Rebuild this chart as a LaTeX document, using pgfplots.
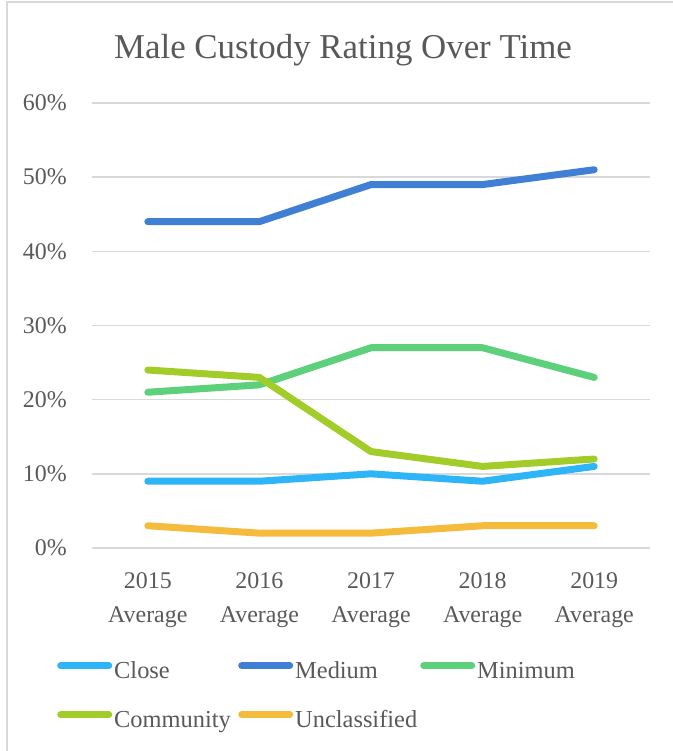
\documentclass[border=0pt]{standalone}
\usepackage{fontspec}
\setmainfont{Liberation Serif}
\usepackage{pgfplots}
\pgfplotsset{compat=1.18}
\definecolor{txt}{HTML}{595959}
\definecolor{gridc}{HTML}{D9D9D9}
\definecolor{cClose}{HTML}{2EB5F8}
\definecolor{cMedium}{HTML}{3F7FD4}
\definecolor{cMinimum}{HTML}{5CD07A}
\definecolor{cCommunity}{HTML}{A2CD28}
\definecolor{cUnclass}{HTML}{F5BB3D}
\begin{document}
\begin{tikzpicture}[x=1bp,y=1bp]
\useasboundingbox (0,0) rectangle (673,751);
\draw[gridc, line width=1.5bp] (7,-5) rectangle (690,749);
\node[txt, font=\fontsize{35}{40}\selectfont] at (343,701) {Male Custody Rating Over Time};
\begin{axis}[
  at={(92bp,203bp)}, anchor=south west,
  scale only axis, width=558bp, height=445bp,
  xmin=-0.5, xmax=4.5, ymin=0, ymax=60,
  xtick={0,1,2,3,4},
  xticklabels={2015\\Average,2016\\Average,2017\\Average,2018\\Average,2019\\Average},
  ytick={0,10,20,30,40,50,60},
  yticklabel={\pgfmathprintnumber{\tick}\%},
  /pgf/number format/assume math mode=true,
  major tick length=0pt,
  axis line style={draw=none},
  ymajorgrids, grid style={draw=gridc, line width=1.5bp},
  tick label style={text=txt, font=\fontsize{24}{34}\selectfont},
  xticklabel style={align=center, anchor=north, inner sep=0pt, yshift=-24.5bp},
  yticklabel style={anchor=east, inner sep=0pt, xshift=-25bp},
  every axis plot/.append style={line width=7bp, line cap=round, line join=round, no markers},
  legend columns=3,
  legend cell align=left,
  legend style={at={(-0.0627,-0.2562)}, anchor=north west, draw=none, fill=none,
    inner sep=0pt, text=txt, font=\fontsize{24.5}{28}\selectfont,
    nodes={inner sep=0pt, text height=16bp, text depth=5bp},
    row sep=28bp,
    /tikz/every odd column/.append style={column sep=2bp}},
  legend image code/.code={\draw[#1] (0bp,7bp) -- (48bp,7bp);},
]
\addplot[cClose] coordinates {(0,9) (1,9) (2,10) (3,9) (4,11)};
\addlegendentry{\makebox[124bp][l]{Close}}
\addplot[cMedium] coordinates {(0,44) (1,44) (2,49) (3,49) (4,51)};
\addlegendentry{\makebox[125bp][l]{Medium}}
\addplot[cMinimum] coordinates {(0,21) (1,22) (2,27) (3,27) (4,23)};
\addlegendentry{Minimum}
\addplot[cCommunity] coordinates {(0,24) (1,23) (2,13) (3,11) (4,12)};
\addlegendentry{\makebox[124bp][l]{Community}}
\addplot[cUnclass] coordinates {(0,3) (1,2) (2,2) (3,3) (4,3)};
\addlegendentry{\makebox[125bp][l]{Unclassified}}
\end{axis}
\end{tikzpicture}
\end{document}
